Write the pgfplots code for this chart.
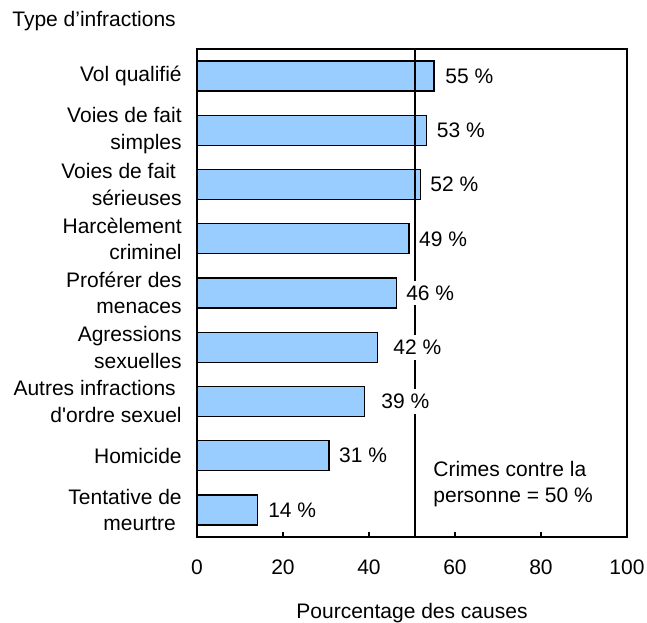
\documentclass[border=0pt]{standalone}
\usepackage{fontspec}
\setmainfont{Liberation Sans}
\usepackage{pgfplots}
\pgfplotsset{compat=1.18}
\definecolor{barblue}{HTML}{99CCFF}

\newcommand{\lbl}{\fontsize{12.6}{16}\selectfont}

\begin{document}
\begin{tikzpicture}
\useasboundingbox (-118.2pt,-51pt) rectangle (270pt,322.2pt);
\begin{axis}[
    at={(0pt,0pt)}, anchor=south west,
    width=258pt, height=292.8pt, scale only axis,
    xmin=0, xmax=100, ymin=0.5, ymax=9.5,
    y dir=reverse,
    axis line style={line width=0.9pt},
    xtick={0,20,...,100},
    xtick pos=bottom, tick align=inside,
    major tick length=3pt,
    every tick/.style={line width=0.9pt, black},
    ytick={1,...,9},
    y tick style={draw=none},
    yticklabels={
        Vol qualifié,
        {Voies de fait\\simples},
        {Voies de fait\kern0.28em\\sérieuses},
        {Harcèlement\\criminel},
        {Proférer des\\menaces},
        {Agressions\\sexuelles},
        {Autres infractions\kern0.28em\\d\textquotesingle ordre sexuel},
        Homicide,
        {Tentative de\\meurtre\kern0.28em}
    },
    yticklabel style={align=right, font=\lbl, inner sep=0pt, xshift=-9pt},
    xticklabel style={font=\lbl, anchor=base, yshift=-22.2pt},
    /pgf/number format/assume math mode=true,
    clip=false,
]
% bars
\addplot[xbar, bar width=18pt, bar shift=0pt, fill=barblue, draw=black, line width=0.8pt]
table[x=v, y=k] {
    k v
    1 55.1
    2 53.4
    3 51.9
    4 49.3
    5 46.4
    6 41.9
    7 39.0
    8 30.7
    9 14.0
};
% reference line
\addplot[black, line width=1.1pt] coordinates {(50.7,0.5) (50.7,9.5)};
% value labels (left edge of each label), drawn over the line
\addplot[draw=none, mark=none,
    nodes near coords, point meta=explicit symbolic,
    nodes near coords style={anchor=west, font=\lbl, fill=white,
        inner xsep=1.5pt, inner ysep=3pt, xshift=-1.5pt}]
table[x=p, y=k, meta=t, col sep=comma] {
    k,p,t
    1,57.7,55 \%
    2,55.7,53 \%
    3,54.2,52 \%
    4,51.6,49 \%
    5,48.6,46 \%
    6,45.6,42 \%
    7,42.8,39 \%
    8,33.0,31 \%
    9,16.5,14 \%
};
\node[font=\lbl, anchor=base west, inner sep=0pt] at (axis cs:54.9,8.375) {Crimes contre la};
\node[font=\lbl, anchor=base west, inner sep=0pt] at (axis cs:54.9,8.855) {personne = 50 \%};
\node[font=\lbl, anchor=base west, inner sep=0pt] at ([xshift=-111pt, yshift=13.8pt]rel axis cs:0,1) {Type d’infractions};
\node[font=\lbl, anchor=base, inner sep=0pt] at ([yshift=-48.6pt]rel axis cs:0.5,0) {Pourcentage des causes};
\end{axis}
\end{tikzpicture}
\end{document}
